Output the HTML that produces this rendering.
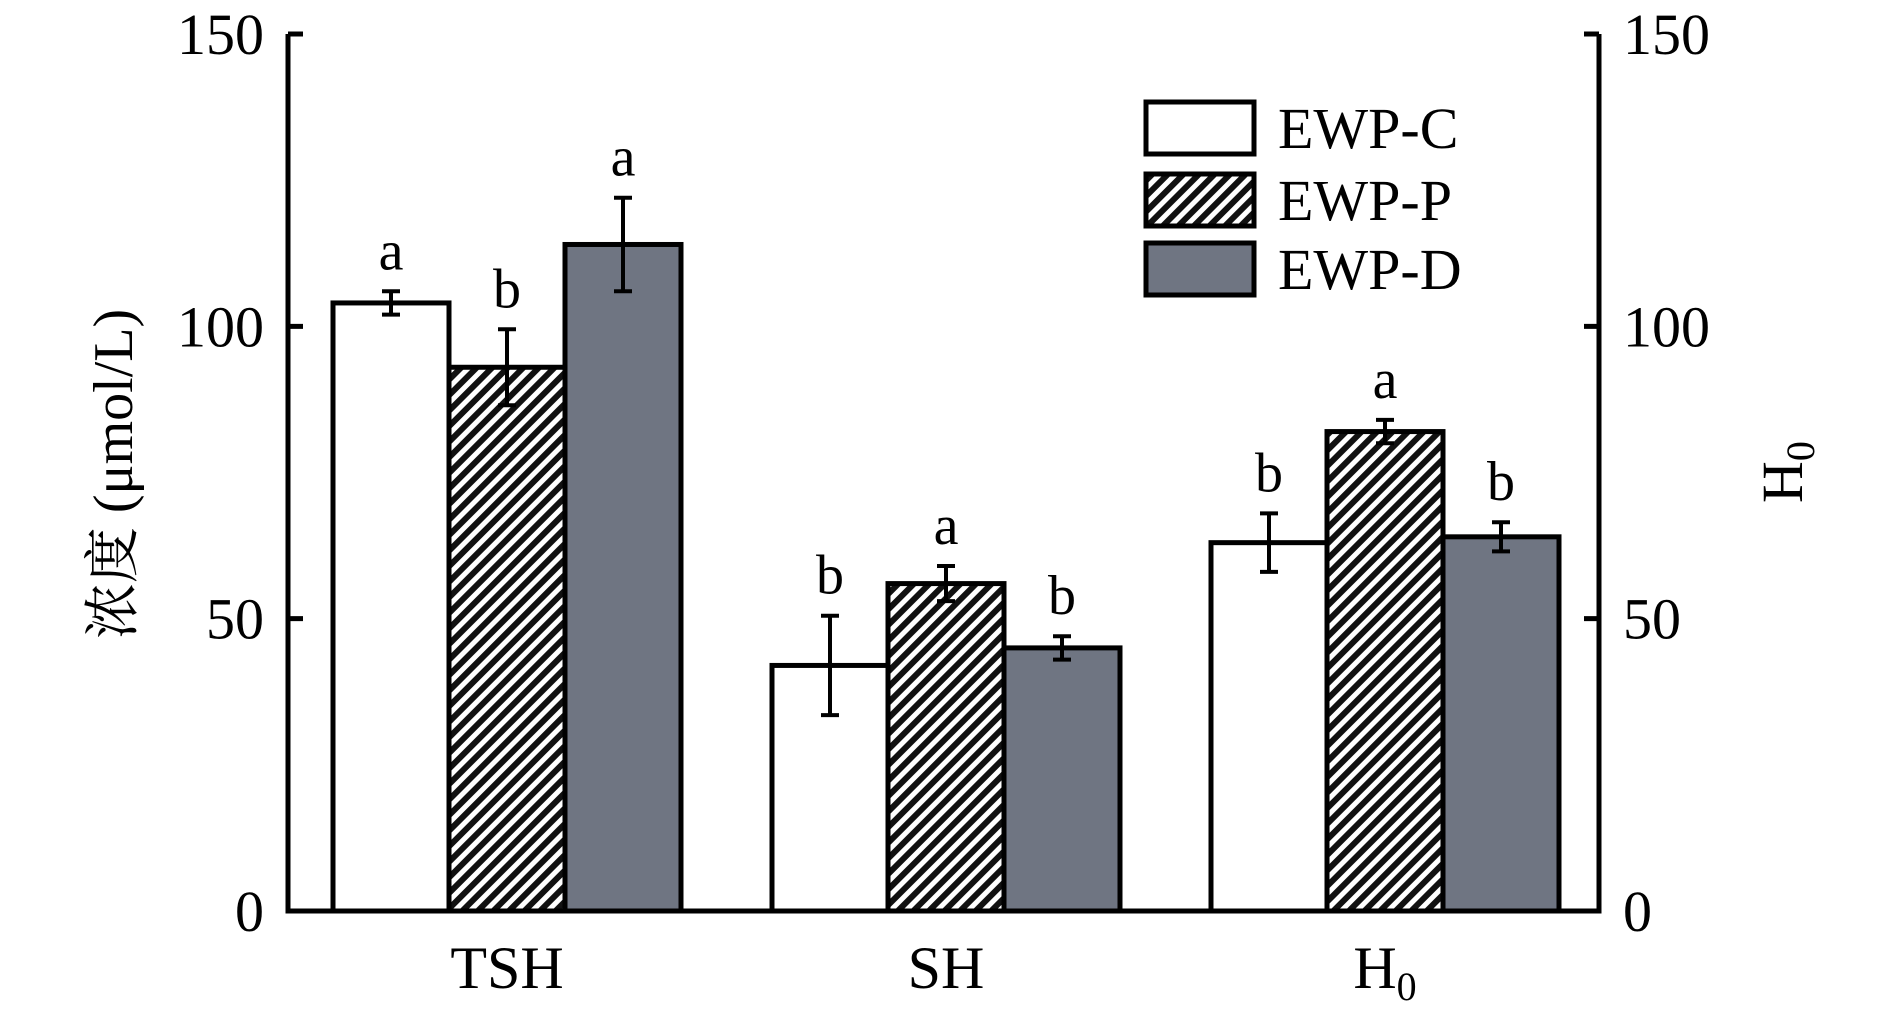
<!DOCTYPE html>
<html><head><meta charset="utf-8"><style>
html,body{margin:0;padding:0;background:#fff;}
svg{display:block;font-family:"Liberation Serif","Noto Serif CJK SC",serif;}
</style></head><body>
<svg id="chart" width="1890" height="1009" viewBox="0 0 1890 1009" xmlns="http://www.w3.org/2000/svg">
<defs>
<pattern id="hatch" patternUnits="userSpaceOnUse" width="11" height="11" patternTransform="rotate(45)">
<rect width="11" height="11" fill="#fff"/><rect width="6" height="11" fill="#111"/>
</pattern>
</defs>
<g id="plot"></g>
</svg>
<script>
const categories = ["TSH", "SH", "H0"];
const seriesNames = ["EWP-C", "EWP-P", "EWP-D"];
const valuesC = [104, 42, 63];
const valuesP = [93, 56, 82];
const valuesD = [114, 45, 64];
const errC = [2, 8.5, 5];
const errP = [6.5, 3, 2];
const errD = [8, 2, 2.5];
const lettersC = ["a", "b", "b"];
const lettersP = ["b", "a", "a"];
const lettersD = ["a", "b", "b"];
const yTicks = [0, 50, 100, 150];

const NS = "http://www.w3.org/2000/svg";
const g = document.getElementById("plot");
const X0 = 288, X1 = 1599, Y0 = 911, Y150 = 34;
const yS = v => Y0 - (v / 150) * (Y0 - Y150);
const groupC = i => 507 + i * 439;
const BW = 116;
function mk(tag, attrs, parent) {
  const e = document.createElementNS(NS, tag);
  for (const k in attrs) e.setAttribute(k, attrs[k]);
  (parent || g).appendChild(e);
  return e;
}
const fills = ["#fff", "url(#hatch)", "#6f7582"];
const vals = [valuesC, valuesP, valuesD];
const errs = [errC, errP, errD];
const lets = [lettersC, lettersP, lettersD];
const seriesKeys = ["c", "p", "d"];

for (let i = 0; i < categories.length; i++) {
  for (let s = 0; s < 3; s++) {
    const x = groupC(i) + (s - 1.5) * BW;
    const v = vals[s][i], e = errs[s][i];
    const r = mk("rect", {x: x, y: yS(v), width: BW, height: Y0 - yS(v), fill: fills[s], stroke: "#000", "stroke-width": 5});
    
    
    const cx = x + BW / 2;
    const eb = mk("path", {d: `M${cx},${yS(v+e)}V${yS(v-e)}M${cx-9},${yS(v+e)}H${cx+9}M${cx-9},${yS(v-e)}H${cx+9}`, stroke: "#000", "stroke-width": 4, fill: "none"});
    
    
    const t = mk("text", {x: cx, y: yS(v + e) - 22, "text-anchor": "middle", "font-size": 56});
    t.textContent = lets[s][i];
    
    
  }
  const xl = mk("text", {x: groupC(i), y: 988, "text-anchor": "middle", "font-size": 60});
  if (categories[i] === "H0") {
    xl.innerHTML = 'H<tspan font-size="40" dy="12">0</tspan>';
  } else xl.textContent = categories[i];
  
  
}

// axes
const ax = mk("path", {d: `M${X0},${Y150}V${Y0}H${X1}V${Y150}`, stroke: "#000", "stroke-width": 5, fill: "none"});


yTicks.forEach(v => {
  const tk = mk("path", {d: `M${X0},${yS(v)}h15M${X1},${yS(v)}h-15`, stroke: "#000", "stroke-width": 5});
  
  
  const l = mk("text", {x: X0 - 24, y: yS(v) + 20, "text-anchor": "end", "font-size": 58});
  l.textContent = v;
  
  
  const r = mk("text", {x: X1 + 24, y: yS(v) + 20, "text-anchor": "start", "font-size": 58});
  r.textContent = v;
  
  
});

// titles
const yt = mk("text", {x: 0, y: 0, "text-anchor": "middle", "font-size": 56, transform: "translate(132,474) rotate(-90)"});
yt.textContent = "浓度 (μmol/L)";


const yt2 = mk("text", {x: 0, y: 0, "text-anchor": "middle", "font-size": 58, transform: "translate(1802,472) rotate(-90)"});
yt2.innerHTML = 'H<tspan font-size="40" dy="12">0</tspan>';



// legend
const legY = [102, 174, 243];
for (let s = 0; s < 3; s++) {
  const lr = mk("rect", {x: 1146, y: legY[s], width: 108, height: 52, fill: fills[s], stroke: "#000", "stroke-width": 5});
  
  
  const lt = mk("text", {x: 1278, y: legY[s] + 46, "font-size": 58});
  lt.textContent = seriesNames[s];
  
  
}
</script>
</body></html>
